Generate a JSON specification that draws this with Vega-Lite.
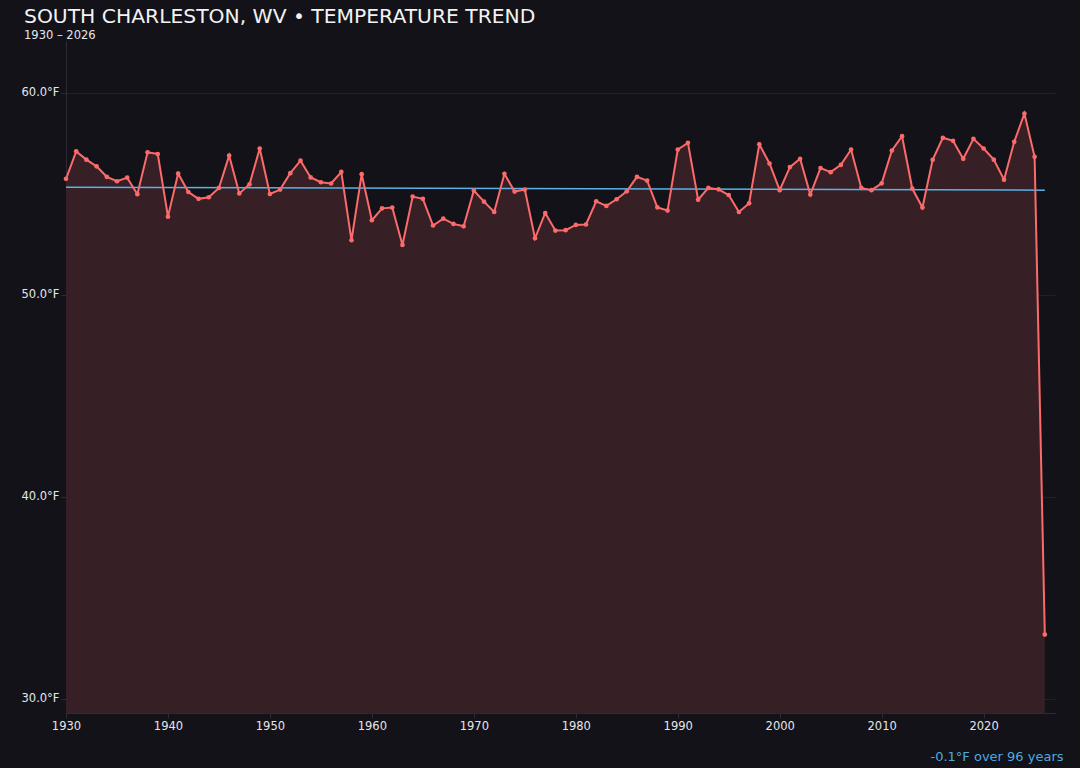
{
  "$schema": "https://vega.github.io/schema/vega-lite/v6.json",
  "autosize": {"type": "none"},
  "width": 989,
  "height": 672,
  "padding": {"left": 66, "top": 41, "right": 25, "bottom": 55},
  "background": "#131218",
  "title": {
    "text": "SOUTH CHARLESTON, WV • TEMPERATURE TREND",
    "subtitle": "1930 – 2026",
    "anchor": "start",
    "frame": "bounds",
    "dx": 3,
    "font": "DejaVu Sans",
    "fontSize": 20.3,
    "fontWeight": "normal",
    "color": "#f2f2f4",
    "subtitleFont": "DejaVu Sans",
    "subtitleFontSize": 11.5,
    "subtitleColor": "#e6e6ea",
    "subtitlePadding": 2,
    "offset": 0
  },
  "datasets": {
    "temps": [
      {"year": 1930, "temp": 55.73}, {"year": 1931, "temp": 57.09}, {"year": 1932, "temp": 56.68},
      {"year": 1933, "temp": 56.35}, {"year": 1934, "temp": 55.83}, {"year": 1935, "temp": 55.61},
      {"year": 1936, "temp": 55.79}, {"year": 1937, "temp": 54.97}, {"year": 1938, "temp": 57.04},
      {"year": 1939, "temp": 56.96}, {"year": 1940, "temp": 53.86}, {"year": 1941, "temp": 55.99},
      {"year": 1942, "temp": 55.08}, {"year": 1943, "temp": 54.74}, {"year": 1944, "temp": 54.82},
      {"year": 1945, "temp": 55.28}, {"year": 1946, "temp": 56.88}, {"year": 1947, "temp": 55.01},
      {"year": 1948, "temp": 55.46}, {"year": 1949, "temp": 57.23}, {"year": 1950, "temp": 54.98},
      {"year": 1951, "temp": 55.2}, {"year": 1952, "temp": 56.01}, {"year": 1953, "temp": 56.63},
      {"year": 1954, "temp": 55.8}, {"year": 1955, "temp": 55.56}, {"year": 1956, "temp": 55.5},
      {"year": 1957, "temp": 56.07}, {"year": 1958, "temp": 52.69}, {"year": 1959, "temp": 55.96},
      {"year": 1960, "temp": 53.68}, {"year": 1961, "temp": 54.27}, {"year": 1962, "temp": 54.31},
      {"year": 1963, "temp": 52.46}, {"year": 1964, "temp": 54.85}, {"year": 1965, "temp": 54.74},
      {"year": 1966, "temp": 53.42}, {"year": 1967, "temp": 53.76}, {"year": 1968, "temp": 53.5},
      {"year": 1969, "temp": 53.38}, {"year": 1970, "temp": 55.15}, {"year": 1971, "temp": 54.6},
      {"year": 1972, "temp": 54.09}, {"year": 1973, "temp": 55.98}, {"year": 1974, "temp": 55.1},
      {"year": 1975, "temp": 55.2}, {"year": 1976, "temp": 52.79}, {"year": 1977, "temp": 54.04},
      {"year": 1978, "temp": 53.17}, {"year": 1979, "temp": 53.19}, {"year": 1980, "temp": 53.45},
      {"year": 1981, "temp": 53.47}, {"year": 1982, "temp": 54.62}, {"year": 1983, "temp": 54.39},
      {"year": 1984, "temp": 54.72}, {"year": 1985, "temp": 55.11}, {"year": 1986, "temp": 55.83},
      {"year": 1987, "temp": 55.64}, {"year": 1988, "temp": 54.32}, {"year": 1989, "temp": 54.16},
      {"year": 1990, "temp": 57.18}, {"year": 1991, "temp": 57.51}, {"year": 1992, "temp": 54.7},
      {"year": 1993, "temp": 55.28}, {"year": 1994, "temp": 55.21}, {"year": 1995, "temp": 54.93},
      {"year": 1996, "temp": 54.09}, {"year": 1997, "temp": 54.52}, {"year": 1998, "temp": 57.44},
      {"year": 1999, "temp": 56.49}, {"year": 2000, "temp": 55.17}, {"year": 2001, "temp": 56.31},
      {"year": 2002, "temp": 56.72}, {"year": 2003, "temp": 54.95}, {"year": 2004, "temp": 56.26},
      {"year": 2005, "temp": 56.06}, {"year": 2006, "temp": 56.42}, {"year": 2007, "temp": 57.18},
      {"year": 2008, "temp": 55.28}, {"year": 2009, "temp": 55.17}, {"year": 2010, "temp": 55.51},
      {"year": 2011, "temp": 57.13}, {"year": 2012, "temp": 57.84}, {"year": 2013, "temp": 55.25},
      {"year": 2014, "temp": 54.31}, {"year": 2015, "temp": 56.67}, {"year": 2016, "temp": 57.76},
      {"year": 2017, "temp": 57.61}, {"year": 2018, "temp": 56.72}, {"year": 2019, "temp": 57.71},
      {"year": 2020, "temp": 57.23}, {"year": 2021, "temp": 56.68}, {"year": 2022, "temp": 55.69},
      {"year": 2023, "temp": 57.56}, {"year": 2024, "temp": 58.96}, {"year": 2025, "temp": 56.82},
      {"year": 2026, "temp": 33.18}
    ],
    "trend": [
      {"year": 1930, "trend": 55.31},
      {"year": 2026, "trend": 55.17}
    ]
  },
  "encoding": {
    "x": {
      "field": "year",
      "type": "quantitative",
      "scale": {"domain": [1930, 2027], "nice": false, "zero": false},
      "axis": {
        "values": [1930, 1940, 1950, 1960, 1970, 1980, 1990, 2000, 2010, 2020],
        "format": "d",
        "grid": false,
        "labelFlush": false,
        "labelColor": "#e6e6ea",
        "labelFontSize": 11.5,
        "labelFont": "DejaVu Sans",
        "tickColor": "#2c2b33",
        "domainColor": "#2c2b33",
        "title": "-0.1°F over 96 years",
        "titleFont": "DejaVu Sans",
        "titleFontSize": 13,
        "titleFontWeight": "normal",
        "titleColor": "#4ea9df",
        "titleAlign": "right",
        "titleAnchor": "end",
        "titleBaseline": "alphabetic",
        "titleX": 997,
        "titleY": 47
      }
    },
    "y": {
      "type": "quantitative",
      "scale": {"domain": [29.3, 62.55], "nice": false, "zero": false},
      "axis": {
        "values": [30, 40, 50, 60],
        "labelExpr": "format(datum.value, '.1f') + '°F'",
        "grid": true,
        "gridColor": "#221f27",
        "labelColor": "#e6e6ea",
        "labelFontSize": 11.5,
        "labelFont": "DejaVu Sans",
        "tickColor": "#2c2b33",
        "domainColor": "#2c2b33",
        "title": null
      }
    }
  },
  "layer": [
    {
      "data": {"name": "temps"},
      "mark": {"type": "area", "color": "#371f26", "opacity": 1, "clip": true},
      "encoding": {"y": {"field": "temp"}}
    },
    {
      "data": {"name": "trend"},
      "mark": {"type": "line", "color": "#5ab2e6", "strokeWidth": 1.5},
      "encoding": {"y": {"field": "trend"}}
    },
    {
      "data": {"name": "temps"},
      "mark": {
        "type": "line",
        "color": "#fb6b6b",
        "strokeWidth": 2,
        "point": {"filled": true, "size": 22, "color": "#fb6b6b"}
      },
      "encoding": {"y": {"field": "temp"}}
    }
  ],
  "config": {
    "view": {"stroke": null},
    "font": "DejaVu Sans"
  }
}
